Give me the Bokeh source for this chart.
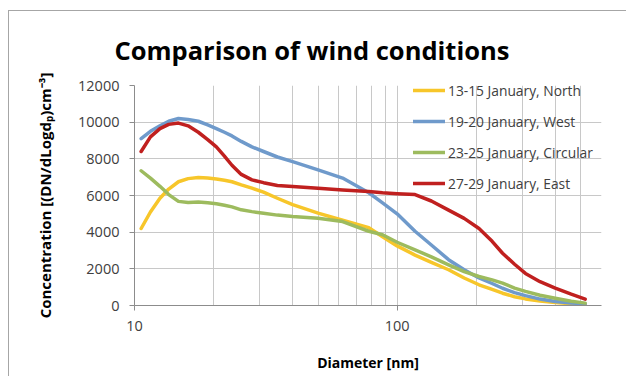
from bokeh.plotting import figure
from bokeh.models import FixedTicker, Range1d, Legend, LegendItem
from bokeh.embed import file_html
from bokeh.resources import INLINE

# Particle diameter [nm] at which each size distribution was sampled
diameter = [10.6, 11.5, 12.5, 13.5, 14.7, 16, 17.5, 19, 20.5, 22, 23.5, 25.5,
            28, 31, 35, 40, 50, 62, 78, 88, 100, 117, 135, 157, 180, 205,
            230, 252, 280, 308, 350, 400, 460, 520]

# Number concentration dN/dlogDp [cm^-3] for each wind regime
north = [4200, 5100, 5850, 6350, 6750, 6920, 6980, 6950, 6900, 6830, 6750,
         6580, 6400, 6180, 5850, 5500, 5040, 4650, 4250, 3750, 3250, 2750,
         2350, 1950, 1500, 1130, 880, 670, 480, 360, 250, 170, 90, 40]
west = [9100, 9500, 9800, 10050, 10200, 10150, 10050, 9850, 9650, 9450, 9250,
        8950, 8650, 8400, 8100, 7850, 7400, 6950, 6150, 5600, 5000, 4050,
        3300, 2500, 1950, 1500, 1200, 940, 700, 540, 350, 220, 140, 90]
circular = [7350, 6950, 6500, 6050, 5680, 5620, 5650, 5600, 5550, 5470, 5380,
            5220, 5120, 5030, 4930, 4850, 4760, 4580, 4050, 3860, 3450, 3040,
            2650, 2220, 1850, 1580, 1400, 1220, 950, 770, 560, 400, 230, 130]
east = [8400, 9200, 9650, 9880, 9950, 9800, 9450, 9050, 8650, 8150, 7650,
        7150, 6850, 6700, 6550, 6490, 6400, 6300, 6220, 6150, 6100, 6050,
        5700, 5200, 4750, 4200, 3500, 2850, 2250, 1750, 1300, 950, 620, 350]

series_names = ["13-15 January, North", "19-20 January, West",
                "23-25 January, Circular", "27-29 January, East"]
series_values = [north, west, circular, east]
series_colors = ["#F7C62A", "#6F9ACB", "#9DBB5E", "#C0201F"]

x_major = [10, 100]
x_minor = [20, 30, 40, 50, 60, 70, 80, 90, 200, 300, 400, 500, 600]
y_ticks = [0, 2000, 4000, 6000, 8000, 10000, 12000]

FONT = "Open Sans"
TEXT = "#404040"

p = figure(width=618, height=366, x_axis_type="log",
           x_range=Range1d(10, 600), y_range=Range1d(0, 12000),
           output_backend="svg", toolbar_location=None,
           min_border_left=125, min_border_right=26,
           min_border_top=74, min_border_bottom=72,
           background_fill_color="white", border_fill_color="white")

# chart box edge along the top and the left
p.margin = (10, 0, 0, 8)
p.styles = {"border-top": "1px solid #a6a6a6", "border-left": "1px solid #a6a6a6"}
p.outline_line_color = None

p.title.text = "Comparison of wind conditions"
p.title.text_font = FONT
p.title.text_font_size = "25.5px"
p.title.text_font_style = "bold"
p.title.text_color = "black"
p.title.align = "left"
p.title.offset = -20
p.title.standoff = 38

# x axis (log) with labelled decades and gridlines at every multiple
p.xaxis.ticker = FixedTicker(ticks=x_major, minor_ticks=x_minor)
p.xaxis.major_label_overrides = {10: "10", 100: "100"}
p.xaxis.axis_label = "Diameter [nm]"
p.yaxis.ticker = FixedTicker(ticks=y_ticks)
p.yaxis.axis_label = "Concentration [(DN/dLogd\u209a)cm\u207b\u00b3]"

for ax in (p.xaxis[0], p.yaxis[0]):
    ax.axis_line_color = "#8c8c8c"
    ax.major_tick_line_color = "#8c8c8c"
    ax.major_tick_out = 5
    ax.major_tick_in = 0
    ax.minor_tick_line_color = None
    ax.major_label_text_font = FONT
    ax.major_label_text_font_size = "14.5px"
    ax.major_label_text_color = TEXT
    ax.axis_label_text_font = FONT
    ax.axis_label_text_font_style = "bold"
    ax.axis_label_text_color = "black"

p.yaxis.axis_label_text_font_size = "15px"
p.xaxis.axis_label_text_font_size = "14px"
p.yaxis.major_label_standoff = 10
p.yaxis.axis_label_standoff = 20
p.xaxis.major_label_standoff = 10
p.xaxis.axis_label_standoff = 19

p.xgrid.grid_line_color = "#c8c8c8"
p.xgrid.minor_grid_line_color = "#c8c8c8"
p.ygrid.grid_line_color = "#c8c8c8"

items = []
for name, vals, col in zip(series_names, series_values, series_colors):
    r = p.line(diameter, vals, line_color=col, line_width=3.5,
               line_join="round", line_cap="round")
    items.append(LegendItem(label=name, renderers=[r]))

legend = Legend(items=items, location=(279, 112),
                background_fill_alpha=0, border_line_color=None,
                padding=0, margin=0, spacing=11,
                glyph_width=32, glyph_height=20, label_standoff=3,
                label_text_font=FONT, label_text_font_size="13.8px",
                label_text_color=TEXT)
p.add_layout(legend)

open("out.html", "w").write(file_html(p, INLINE))
